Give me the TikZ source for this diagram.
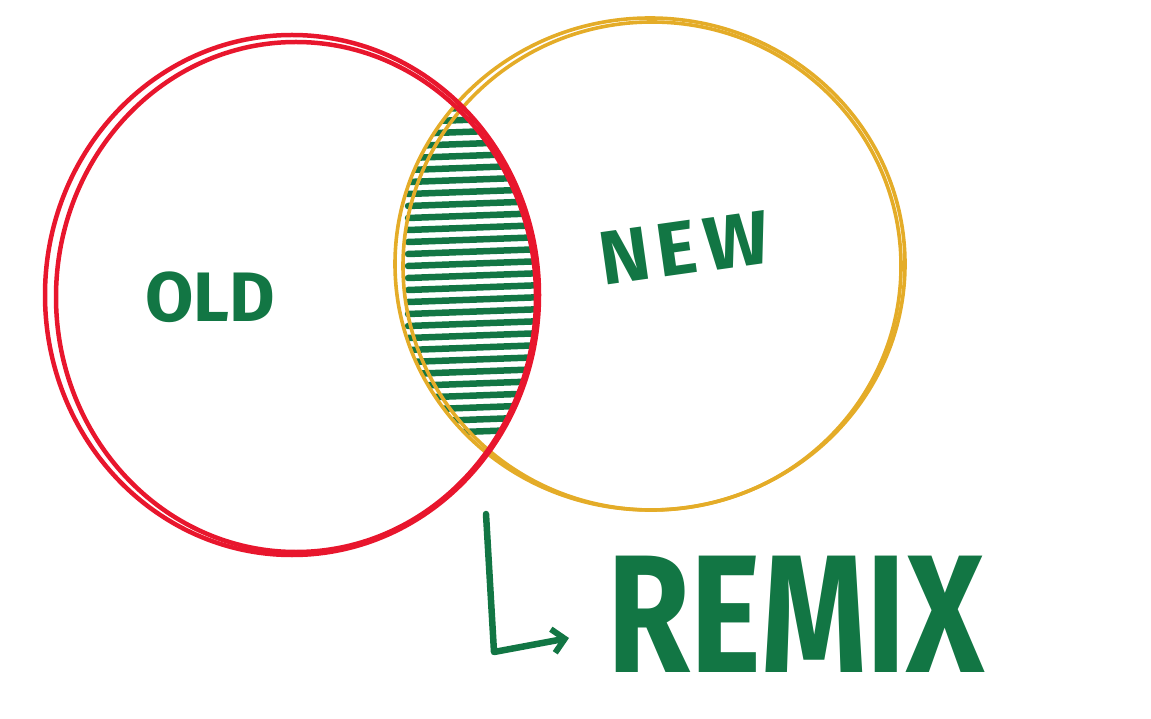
\documentclass[tikz,border=0pt]{standalone}
\usepackage{fontspec}
\setsansfont{Fira Sans}
\usetikzlibrary{arrows.meta,shapes.geometric}
\definecolor{oldred}{RGB}{232,22,45}
\definecolor{newyel}{RGB}{228,172,40}
\definecolor{mgreen}{RGB}{18,118,68}
\tikzset{
  redring/.style={draw=oldred, line width=4.5pt},
  yelring/.style={draw=newyel, line width=3.6pt},
  hatch/.style={draw=mgreen, line width=6.5pt, line cap=round},
  word/.style={text=mgreen, font=\sffamily\bfseries},
  pointer/.style={draw=mgreen, line width=6.5pt, line cap=round, line join=round, -{Straight Barb[length=12pt,width=24pt,line width=6pt]}}
}
\begin{document}
\begin{tikzpicture}[x=1pt,y=-1pt]
\useasboundingbox (0,0) rectangle (1151,719);
% hatching in the overlap
\begin{scope}
  \clip (292,295) ellipse [x radius=247, y radius=260];
  \clip (650,264) ellipse [x radius=255, y radius=246];
  \foreach \k in {0,...,28} {
    \draw[hatch] (408,{98+12*\k}) -- (545,{93+12*\k});
  }
\end{scope}
% rings (double strokes for a hand-drawn look)
\node[yelring, ellipse, minimum width=510pt, minimum height=492pt, inner sep=0pt] (new) at (650,264) {};
\draw[yelring] (652,266) ellipse [x radius=249, y radius=244];
\node[redring, ellipse, minimum width=494pt, minimum height=520pt, inner sep=0pt] (old) at (292,295) {};
\draw[redring] (296,297) ellipse [x radius=240, y radius=255];
% labels
\node[word, font=\sffamily\bfseries\fontsize{70}{70}\selectfont] (oldlabel) at (210,297) {OLD};
\node[word, rotate=8, font=\sffamily\bfseries\fontsize{76}{76}\selectfont\addfontfeature{LetterSpace=10}] (newlabel) at (684,248) {NEW};
\node[word, font=\sffamily\bfseries\fontsize{168}{168}\selectfont, xscale=0.8, inner sep=0pt] (remix) at (796,614) {REMIX};
% pointer
\coordinate (top) at (486,514);
\coordinate (corner) at (494,652);
\coordinate (tip) at (569,638);
\draw[pointer] (top) -- (corner) -- (tip);
\end{tikzpicture}
\end{document}
